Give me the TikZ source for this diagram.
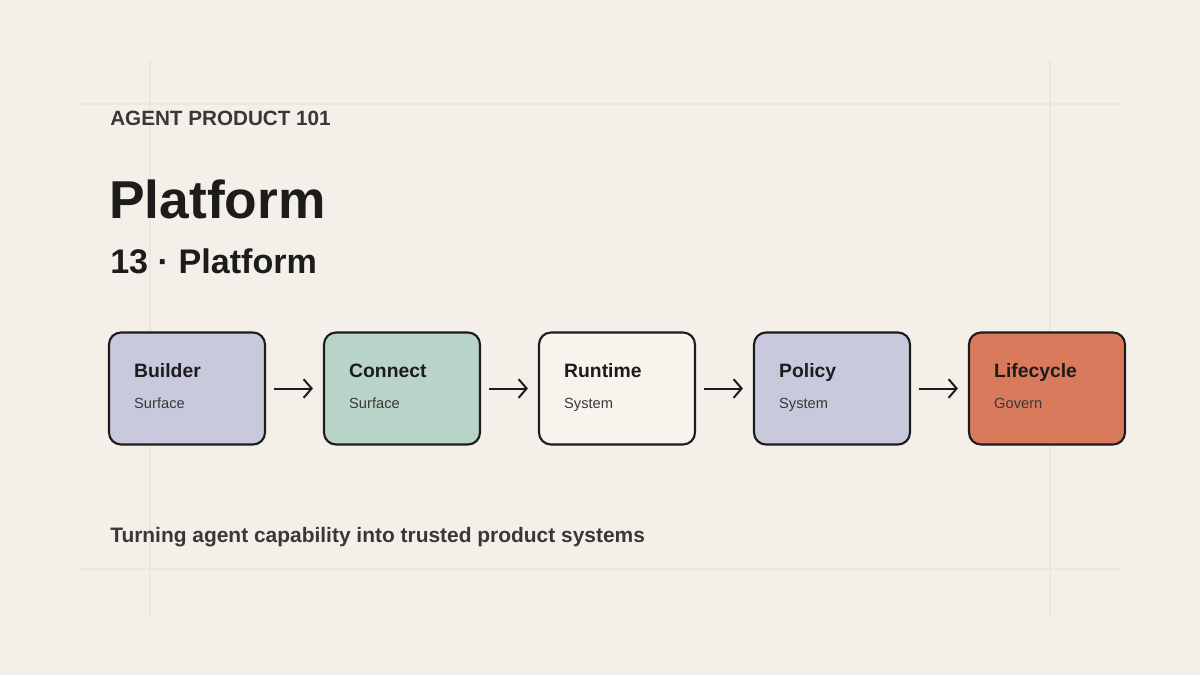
\documentclass[tikz,border=0pt]{standalone}
\usepackage{fontspec}
\setmainfont{Liberation Sans}
\usetikzlibrary{positioning,arrows.meta}
\definecolor{bgcol}{HTML}{F4F0E9}
\definecolor{gridcol}{HTML}{ECE6DD}
\definecolor{inkcol}{HTML}{1C1C1C}
\definecolor{greycol}{HTML}{3A3835}
\definecolor{lilac}{HTML}{C9C9DD}
\definecolor{sage}{HTML}{B8D4C8}
\definecolor{paper}{HTML}{F7F4EE}
\definecolor{clay}{HTML}{D97A5C}
\tikzset{
  stage/.style={draw=inkcol, line width=1.6pt, rounded corners=9pt, minimum width=117pt, minimum height=84pt, inner sep=0pt},
  flow/.style={-{Straight Barb[length=6pt,width=14pt,line width=1.5pt]}, line width=1.5pt, draw=inkcol},
}
\begin{document}
\begin{tikzpicture}[x=0.75pt,y=0.75pt,yscale=-1,xscale=1]
\fill[bgcol] (0,0) rectangle (1200,675);
\useasboundingbox (0,0) rectangle (1200,675);
% guides
\draw[gridcol, line width=0.8pt] (150,60) -- (150,615) (1050,60) -- (1050,615);
\draw[gridcol, line width=0.8pt] (80,104) -- (1120,104) (80,569) -- (1120,569);
% headings
\node (kicker) [anchor=base west, inner sep=0pt, text=greycol, font=\bfseries\fontsize{15.5}{18}\selectfont] at (110,125) {AGENT PRODUCT 101};
\node (title) [anchor=base west, inner sep=0pt, text=inkcol, font=\bfseries\fontsize{40}{48}\selectfont] at (109,218) {Platform};
\node (subtitle) [anchor=base west, inner sep=0pt, text=inkcol, font=\bfseries\fontsize{25.6}{30}\selectfont] at (110,273) {13 · Platform};
% stages
\node (builder) [stage, fill=lilac] at (187,388.5) {};
\node (connect) [stage, fill=sage] at (402,388.5) {};
\node (runtime) [stage, fill=paper] at (617,388.5) {};
\node (policy) [stage, fill=lilac] at (832,388.5) {};
\node (lifecycle) [stage, fill=clay] at (1047,388.5) {};
\foreach \n/\a/\b in {builder/Builder/Surface, connect/Connect/Surface, runtime/Runtime/System, policy/Policy/System, lifecycle/Lifecycle/Govern}{
  \node (\n-name) [anchor=base west, inner sep=0pt, text=inkcol, font=\bfseries\fontsize{14.5}{17}\selectfont] at ([xshift=19.5pt, yshift=34.8pt]\n.north west) {\a};
  \node (\n-kind) [anchor=base west, inner sep=0pt, text=greycol, font=\fontsize{11}{13}\selectfont] at ([xshift=19.5pt, yshift=58pt]\n.north west) {\b};
}
\draw[flow] ([xshift=6pt]builder.east) -- ([xshift=-7.5pt]connect.west);
\draw[flow] ([xshift=6pt]connect.east) -- ([xshift=-7.5pt]runtime.west);
\draw[flow] ([xshift=6pt]runtime.east) -- ([xshift=-7.5pt]policy.west);
\draw[flow] ([xshift=6pt]policy.east) -- ([xshift=-7.5pt]lifecycle.west);
% caption
\node (caption) [anchor=base west, inner sep=0pt, text=greycol, font=\bfseries\fontsize{15.7}{19}\selectfont] at (110,542) {Turning agent capability into trusted product systems};
\end{tikzpicture}
\end{document}
